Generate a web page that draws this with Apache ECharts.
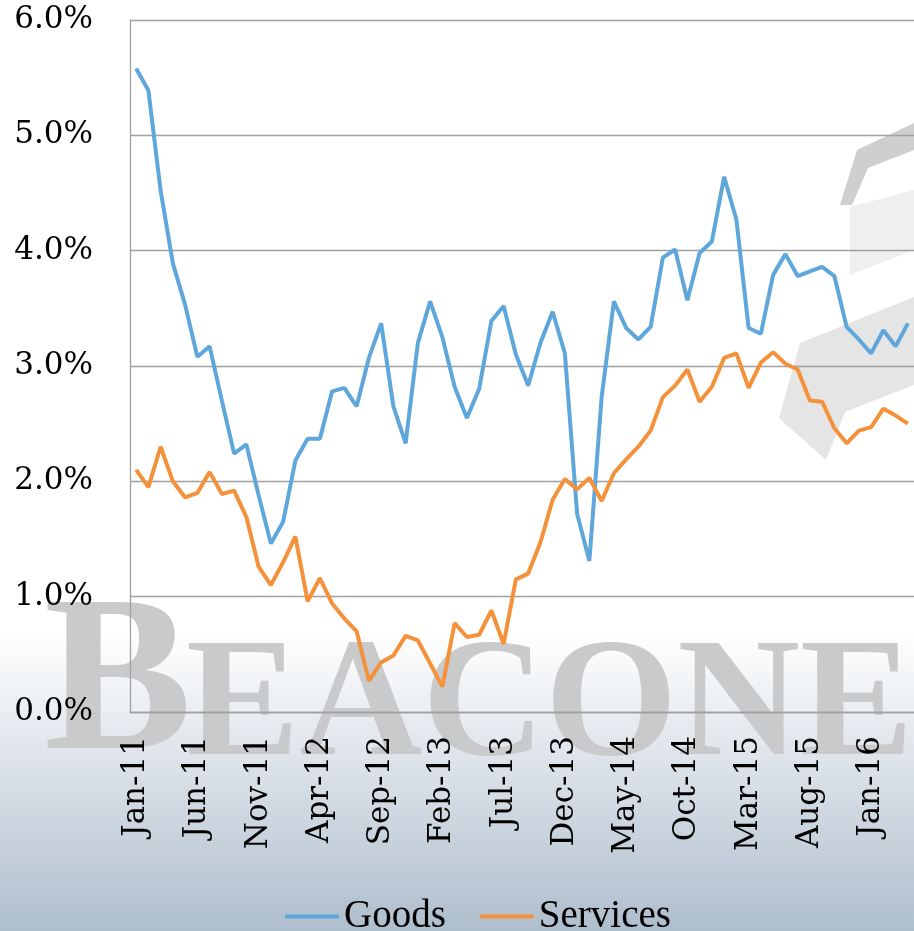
<!DOCTYPE html>
<html>
<head>
<meta charset="utf-8">
<script src="https://cdn.jsdelivr.net/npm/echarts@6/dist/echarts.min.js"></script>
<style>
html,body{margin:0;padding:0;}
#chart{width:914px;height:931px;}
</style>
</head>
<body>
<div id="chart"></div>
<script>
// monthly categories Jan-11 .. Apr-16
var monthNames = ['Jan','Feb','Mar','Apr','May','Jun','Jul','Aug','Sep','Oct','Nov','Dec'];
var months = [];
for (var k = 0; k < 64; k++) {
    months.push(monthNames[k % 12] + '-' + (11 + Math.floor(k / 12)));
}

// year-over-year inflation, percent
var goods = [5.58,5.39,4.52,3.89,3.53,3.08,3.17,2.70,2.24,2.32,
             1.88,1.46,1.65,2.18,2.37,2.37,2.78,2.81,2.65,3.07,
             3.37,2.65,2.33,3.20,3.56,3.25,2.82,2.55,2.80,3.39,
             3.52,3.10,2.83,3.20,3.47,3.11,1.72,1.31,2.73,3.56,
             3.33,3.23,3.34,3.94,4.01,3.57,3.98,4.08,4.64,4.27,
             3.33,3.28,3.79,3.97,3.78,3.82,3.86,3.78,3.34,3.23,
             3.11,3.31,3.17,3.37];
var services = [2.10,1.95,2.30,2.00,1.86,1.90,2.08,1.89,1.92,1.69,
                1.26,1.10,1.30,1.52,0.96,1.16,0.94,0.81,0.70,0.27,
                0.43,0.49,0.66,0.62,0.42,0.22,0.77,0.65,0.67,0.88,
                0.59,1.15,1.20,1.47,1.84,2.02,1.93,2.03,1.83,2.07,
                2.19,2.30,2.44,2.73,2.83,2.97,2.69,2.82,3.07,3.11,
                2.81,3.03,3.12,3.02,2.97,2.70,2.69,2.46,2.33,2.44,
                2.47,2.63,2.57,2.50];

var mychart = echarts.init(document.getElementById('chart'));
var option = {
    backgroundColor: new echarts.graphic.LinearGradient(0, 0, 0, 1, [
        {offset: 0, color: '#ffffff'},
        {offset: 0.68, color: '#ffffff'},
        {offset: 1, color: '#afbecd'}
    ]),
    animation: false,
    // watermark behind the plot
    graphic: [
        {type: 'polygon', z: -10, silent: true,
         shape: {points: [[857,150],[914,123],[914,150],[868,168],[852,205],[840,205]]},
         style: {fill: '#cfcfcf'}},
        {type: 'polygon', z: -10, silent: true,
         shape: {points: [[850,207],[914,190],[914,250],[850,275]]},
         style: {fill: '#efefef'}},
        {type: 'polygon', z: -10, silent: true,
         shape: {points: [[800,343],[914,297],[914,385],[845,412],[826,460],[779,418]]},
         style: {fill: '#e5e5e5'}},
        {type: 'text', z: -10, silent: true, left: 44, top: 580,
         style: {text: 'B', fontFamily: 'Liberation Serif', fontWeight: 'bold', fontSize: 222, fill: '#c8cacc'}},
        {type: 'text', z: -10, silent: true, left: 186, top: 625,
         style: {text: 'EACONE', fontFamily: 'Liberation Serif', fontWeight: 'bold', fontSize: 170, fill: '#c8cacc'}}
    ],
    grid: {left: 130, top: 20, width: 788, height: 692, containLabel: false},
    legend: {
        data: ['Goods', 'Services'],
        top: 892,
        left: 280,
        icon: 'rect',
        itemWidth: 54,
        itemHeight: 4,
        itemGap: 34,
        textStyle: {fontFamily: 'Liberation Serif', fontSize: 39, color: '#000'}
    },
    xAxis: {
        type: 'category',
        data: months,
        boundaryGap: true,
        axisLine: {lineStyle: {color: '#a0a0a0', width: 1.3}},
        axisTick: {show: false},
        axisLabel: {
            interval: 4,
            rotate: 90,
            margin: 24,
            fontFamily: 'DejaVu Serif',
            fontSize: 31,
            color: '#000'
        }
    },
    yAxis: {
        type: 'value',
        min: 0,
        max: 6,
        interval: 1,
        axisLine: {show: true, lineStyle: {color: '#a0a0a0', width: 1.3}},
        axisTick: {show: false},
        splitLine: {lineStyle: {color: '#a0a0a0', width: 1.3}},
        axisLabel: {
            margin: 37,
            fontFamily: 'DejaVu Serif',
            fontSize: 31,
            color: '#000',
            formatter: function (v) { return v.toFixed(1) + '%'; }
        }
    },
    series: [
        {name: 'Goods', type: 'line', data: goods, showSymbol: false,
         itemStyle: {color: '#5fa7db'}, lineStyle: {color: '#5fa7db', width: 4}},
        {name: 'Services', type: 'line', data: services, showSymbol: false,
         itemStyle: {color: '#f4923c'}, lineStyle: {color: '#f4923c', width: 4}}
    ]
};
mychart.setOption(option, true);
window.addEventListener('resize', () => mychart.resize());
</script>
</body>
</html>
